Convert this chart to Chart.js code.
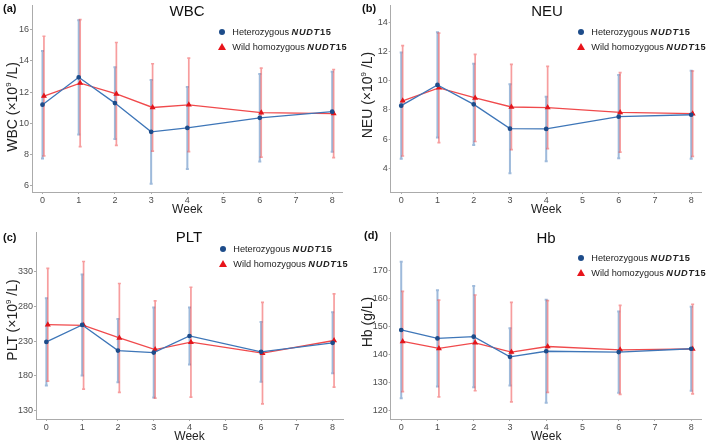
<!DOCTYPE html>
<html>
<head>
<meta charset="utf-8">
<script src="https://cdn.jsdelivr.net/npm/chart.js@4.4.1/dist/chart.umd.min.js"></script>
<style>
    html, body { margin: 0; padding: 0; background: #fff; overflow: hidden; width: 709px; height: 441px; }
    body { position: relative; font-family: "Liberation Sans", Arial, sans-serif; color: #111; }
    canvas { position: absolute; }
    .lab { position: absolute; font-weight: bold; font-size: 11px; line-height: 13px; }
    .ttl { position: absolute; font-size: 15px; transform: translate(-50%, -50%); white-space: nowrap; }
    .ytl { position: absolute; font-size: 14px; color: #222; white-space: nowrap; transform: translate(-50%, -50%) rotate(-90deg); }
    .ytl sup { font-size: 8px; vertical-align: 6px; line-height: 0; }
    .txt { position: absolute; font-size: 9.2px; line-height: 14px; color: #222; white-space: nowrap; }
    .gene { font-weight: bold; letter-spacing: 0.7px; }
    .dot { position: absolute; width: 6px; height: 6px; border-radius: 50%; background: #1d4c8a; }
    .tri { position: absolute; width: 0; height: 0; border-left: 4px solid transparent; border-right: 4px solid transparent; border-bottom: 7px solid #e8141b; }
</style>
</head>
<body>
<canvas id="wbcChart" width="354" height="220" style="left:0;top:0"></canvas>
<canvas id="neuChart" width="354" height="220" style="left:354px;top:0"></canvas>
<canvas id="pltChart" width="354" height="220" style="left:0;top:227px"></canvas>
<canvas id="hbChart" width="354" height="220" style="left:354px;top:227px"></canvas>

<div class="lab" style="left:3px;top:2px">(a)</div>
<div class="lab" style="left:362px;top:2px">(b)</div>
<div class="lab" style="left:3px;top:231px">(c)</div>
<div class="lab" style="left:364px;top:229px">(d)</div>

<div class="ttl" style="left:187px;top:10px">WBC</div>
<div class="ttl" style="left:547px;top:10px">NEU</div>
<div class="ttl" style="left:189px;top:236px">PLT</div>
<div class="ttl" style="left:546px;top:237px">Hb</div>

<div class="ytl" style="left:12px;top:107px">WBC (×10<sup>9</sup> /L)</div>
<div class="ytl" style="left:367px;top:95px">NEU (×10<sup>9</sup> /L)</div>
<div class="ytl" style="left:12px;top:320px">PLT (×10<sup>9</sup> /L)</div>
<div class="ytl" style="left:367px;top:322px">Hb (g/L)</div>

<div id="legends"></div>

<script>
const weeks = [0, 1, 2, 3, 4, 6, 8];
const weekTicks = [0, 1, 2, 3, 4, 5, 6, 7, 8];

// WBC (x10^9/L)
const wbcHetMean = [11.2, 12.95, 11.3, 9.46, 9.71, 10.36, 10.75];
const wbcHetSd = [3.44, 3.66, 2.29, 3.32, 2.62, 2.8, 2.56];
const wbcWildMean = [11.75, 12.58, 11.89, 11.02, 11.19, 10.69, 10.63];
const wbcWildSd = [3.83, 4.06, 3.29, 2.8, 2.99, 2.85, 2.82];
const wbcTicks = [6, 8, 10, 12, 14, 16];

// NEU (x10^9/L)
const neuHetMean = [8.29, 9.71, 8.38, 6.72, 6.7, 7.54, 7.67];
const neuHetSd = [3.63, 3.6, 2.77, 3.04, 2.2, 2.84, 3.01];
const neuWildMean = [8.62, 9.51, 8.82, 8.2, 8.16, 7.83, 7.74];
const neuWildSd = [3.77, 3.74, 2.98, 2.91, 2.81, 2.72, 2.92];
const neuTicks = [4, 6, 8, 10, 12, 14];

// PLT (x10^9/L)
const pltHetMean = [229, 253.4, 216.4, 213.6, 237.5, 214.6, 227.7];
const pltHetSd = [62.9, 72.7, 45.6, 64.8, 41.1, 43, 44];
const pltWildMean = [253.8, 252.9, 234.7, 217.9, 228.6, 212.7, 231];
const pltWildSd = [81.3, 92, 78.5, 70.1, 79.2, 73.2, 67.1];
const pltTicks = [130, 180, 230, 280, 330];

// Hb (g/L)
const hbHetMean = [148.6, 145.6, 146.2, 139, 141, 140.7, 141.9];
const hbHetSd = [24.4, 17.2, 18.1, 10.2, 18.4, 14.5, 15];
const hbWildMean = [144.5, 142, 144, 140.7, 142.7, 141.5, 141.8];
const hbWildSd = [17.9, 17.3, 17.1, 17.8, 16.4, 15.9, 16];
const hbTicks = [120, 130, 140, 150, 160, 170];

const HET_SHIFT = 0;
const WILD_SHIFT = 0.04;
const CAP = 1.5;
const AXIS_GREY = "#ababab";
const FONT = "'Liberation Sans', Arial, sans-serif";

function errorBars(sets) {
    return {
        id: "errorBars",
        beforeDatasetsDraw(chart) {
            const { ctx, scales: { x, y } } = chart;
            sets.forEach(set => {
                ctx.save();
                ctx.strokeStyle = set.color;
                ctx.lineWidth = set.width;
                weeks.forEach((w, i) => {
                    const px = x.getPixelForValue(w + set.shift);
                    const top = y.getPixelForValue(set.mean[i] + set.sd[i]);
                    const bot = y.getPixelForValue(set.mean[i] - set.sd[i]);
                    ctx.beginPath();
                    ctx.moveTo(px, top);
                    ctx.lineTo(px, bot);
                    ctx.moveTo(px - CAP, top);
                    ctx.lineTo(px + CAP, top);
                    ctx.moveTo(px - CAP, bot);
                    ctx.lineTo(px + CAP, bot);
                    ctx.stroke();
                });
                ctx.restore();
            });
        }
    };
}

function buildPanel(id, p) {
    const ctx = document.getElementById(id).getContext("2d");
    return new Chart(ctx, {
        type: "line",
        data: {
            datasets: [
                {
                    label: "Heterozygous NUDT15",
                    data: weeks.map((w, i) => ({ x: w + HET_SHIFT, y: p.hetMean[i] })),
                    borderColor: "#3e76b8",
                    backgroundColor: "#1d4c8a",
                    pointBorderColor: "#1d4c8a",
                    pointStyle: "circle",
                    pointRadius: 1.7,
                    borderWidth: 1.3
                },
                {
                    label: "Wild homozygous NUDT15",
                    data: weeks.map((w, i) => ({ x: w + WILD_SHIFT, y: p.wildMean[i] })),
                    borderColor: "#f04a4c",
                    backgroundColor: "#e3161c",
                    pointBorderColor: "#e3161c",
                    pointStyle: "triangle",
                    pointRadius: 2.2,
                    borderWidth: 1.3
                }
            ]
        },
        options: {
            responsive: false,
            animation: false,
            devicePixelRatio: 1,
            layout: { padding: { left: 0, top: 0, right: p.padRight, bottom: 0 } },
            plugins: {
                legend: { display: false },
                tooltip: { enabled: false }
            },
            scales: {
                x: {
                    type: "linear",
                    min: -0.29,
                    max: 8.29,
                    afterBuildTicks: s => { s.ticks = weekTicks.map(v => ({ value: v })); },
                    afterFit: s => { s.height = 28; s.paddingLeft = 0; s.paddingRight = 0; },
                    grid: { display: true, drawOnChartArea: false, drawTicks: true, tickLength: 2, color: AXIS_GREY },
                    border: { display: true, color: AXIS_GREY, width: 1 },
                    ticks: { autoSkip: false, maxRotation: 0, padding: 1, color: "#4d4d4d", font: { family: FONT, size: 9 } },
                    title: { display: true, text: "Week", color: "#222", font: { family: FONT, size: 12 }, padding: { top: 0, bottom: 3 } }
                },
                y: {
                    min: p.yMin,
                    max: p.yMax,
                    afterBuildTicks: s => { s.ticks = p.ticks.map(v => ({ value: v })); },
                    afterFit: s => { s.width = p.yWidth; s.paddingTop = 0; s.paddingBottom = 0; },
                    grid: { display: true, drawOnChartArea: false, drawTicks: true, tickLength: 2, color: AXIS_GREY },
                    border: { display: true, color: AXIS_GREY, width: 1 },
                    ticks: { padding: 1, color: "#4d4d4d", font: { family: FONT, size: 9 } }
                }
            }
        },
        plugins: [errorBars([
            { mean: p.hetMean, sd: p.hetSd, shift: HET_SHIFT, color: "rgba(62,118,184,0.5)", width: 2 },
            { mean: p.wildMean, sd: p.wildSd, shift: WILD_SHIFT, color: "rgba(240,60,62,0.5)", width: 1.7 }
        ])]
    });
}

buildPanel("wbcChart", {
    hetMean: wbcHetMean, hetSd: wbcHetSd, wildMean: wbcWildMean, wildSd: wbcWildSd,
    ticks: wbcTicks, yMin: 5.61, yMax: 17.56, yWidth: 32, padRight: 11.3
});
buildPanel("neuChart", {
    hetMean: neuHetMean, hetSd: neuHetSd, wildMean: neuWildMean, wildSd: neuWildSd,
    ticks: neuTicks, yMin: 2.39, yMax: 15.15, yWidth: 36.7, padRight: 6.3
});
buildPanel("pltChart", {
    hetMean: pltHetMean, hetSd: pltHetSd, wildMean: pltWildMean, wildSd: pltWildSd,
    ticks: pltTicks, yMin: 117.8, yMax: 387, yWidth: 36, padRight: 11
});
buildPanel("hbChart", {
    hetMean: hbHetMean, hetSd: hbHetSd, wildMean: hbWildMean, wildSd: hbWildSd,
    ticks: hbTicks, yMin: 116.8, yMax: 183.5, yWidth: 36.7, padRight: 6.3
});

// legends: marker centre x, first row centre y
function addLegend(mx, my) {
    const box = document.getElementById("legends");
    const rows = [
        { cls: "dot", dx: -3, dy: -3, text: "Heterozygous " },
        { cls: "tri", dx: -4, dy: -4, text: "Wild homozygous " }
    ];
    rows.forEach((r, i) => {
        const cy = my + i * 14.5;
        const mk = document.createElement("div");
        mk.className = r.cls;
        mk.style.left = (mx + r.dx) + "px";
        mk.style.top = (cy + r.dy) + "px";
        box.appendChild(mk);
        const t = document.createElement("div");
        t.className = "txt";
        t.style.left = (mx + 10.6) + "px";
        t.style.top = (cy - 7) + "px";
        t.innerHTML = r.text + '<span class="gene"><i>NUDT</i>15</span>';
        box.appendChild(t);
    });
}
addLegend(221.7, 32.3);
addLegend(580.7, 32.3);
addLegend(222.7, 249.3);
addLegend(580.7, 258.3);
</script>
</body>
</html>
